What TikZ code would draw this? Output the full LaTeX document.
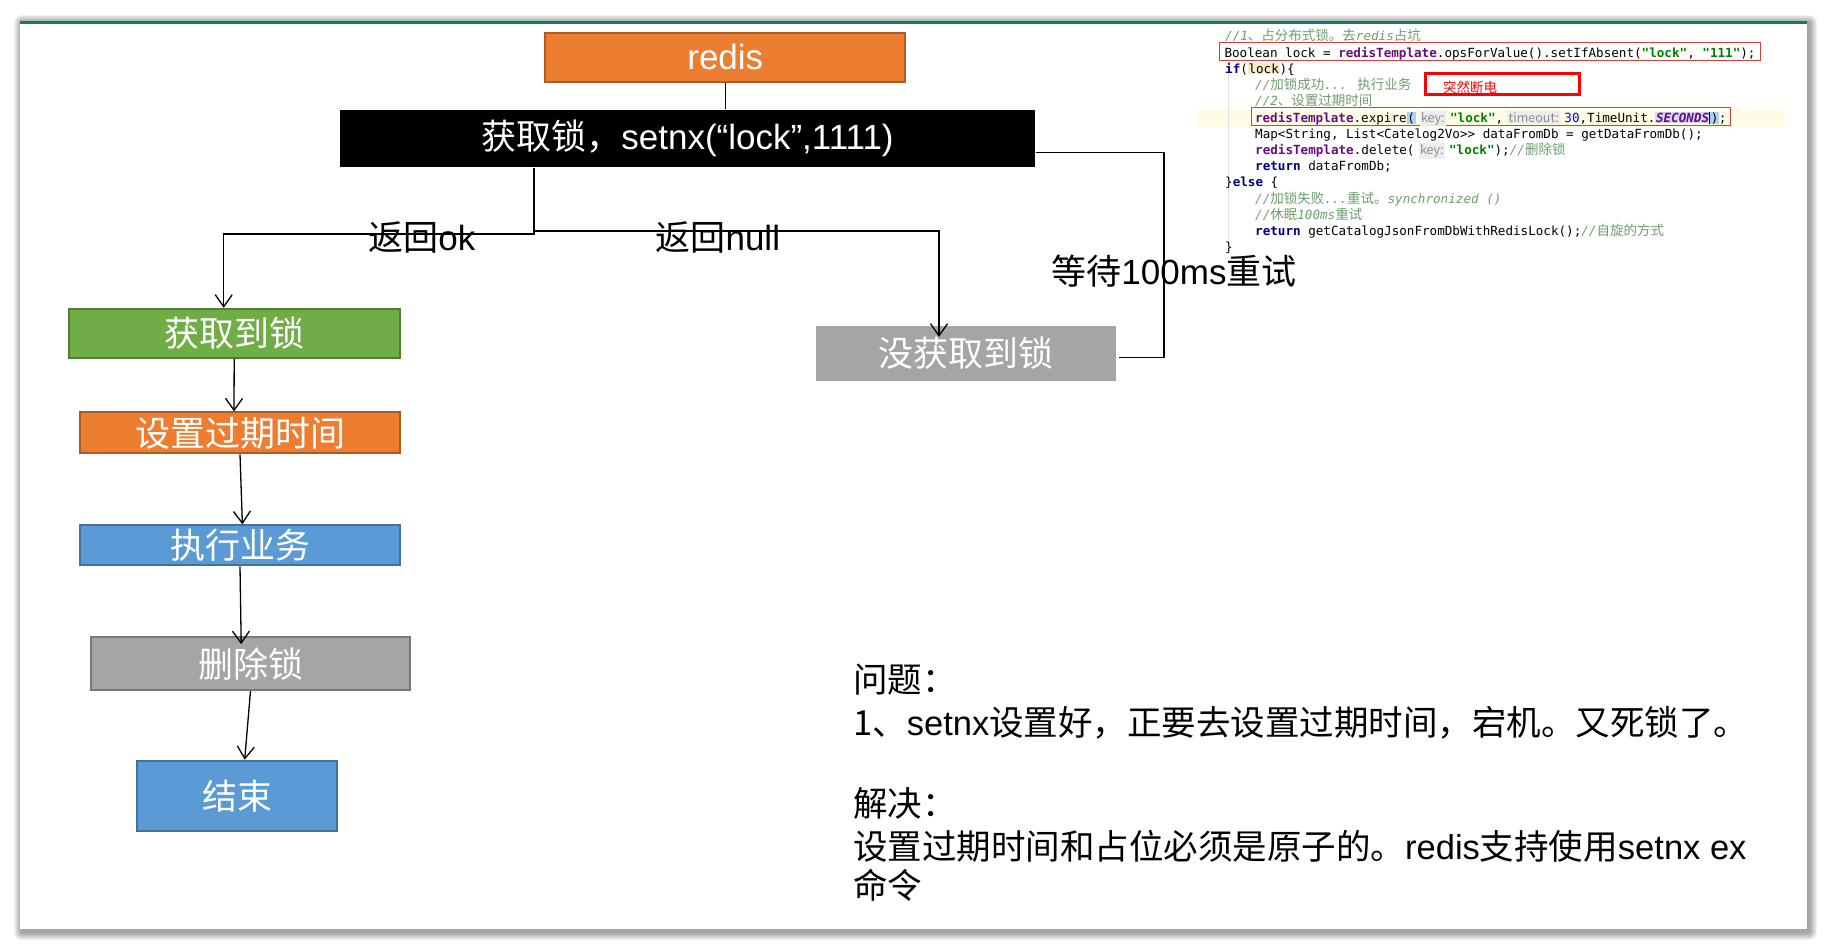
\documentclass[tikz,border=0pt]{standalone}
\usepackage{fontspec}
\setmainfont{Noto Sans CJK SC}
\newfontfamily\cjk{Noto Sans CJK SC}
\newfontfamily\lat{Liberation Sans}
\newfontfamily\mono{DejaVu Sans Mono}
\usetikzlibrary{arrows.meta, positioning}

\definecolor{slideteal}{HTML}{127A6B}
\definecolor{orngfill}{HTML}{ED7D31}
\definecolor{orngline}{HTML}{AE5A21}
\definecolor{grnfill}{HTML}{70AD47}
\definecolor{grnline}{HTML}{507E32}
\definecolor{bluefill}{HTML}{5B9BD5}
\definecolor{blueline}{HTML}{41719C}
\definecolor{grayfill}{HTML}{A5A5A5}
\definecolor{grayline}{HTML}{787878}
\definecolor{cmtgreen}{HTML}{6E9E6E}
\definecolor{kwnavy}{HTML}{000080}
\definecolor{tplpurple}{HTML}{660E7A}
\definecolor{strgreen}{HTML}{008000}
\definecolor{numblue}{HTML}{0000FF}
\definecolor{hintgray}{HTML}{8C8C8C}
\definecolor{hintbg}{HTML}{EDEDED}
\definecolor{lockbg}{HTML}{F6EDC6}
\definecolor{parenbg}{HTML}{A9D0F5}
\definecolor{selbg}{HTML}{D6D6F7}
\definecolor{curline}{HTML}{FFFCE6}
\definecolor{codered}{HTML}{DD3B3B}

% code colouring
\newcommand\codezh[1]{{\cjk\fontsize{13.5}{15}\selectfont #1}}
\newcommand\codekw[1]{{\bfseries\color{kwnavy}#1}}
\newcommand\codetpl{{\bfseries\color{tplpurple}redisTemplate}}
\newcommand\codestr[1]{{\bfseries\color{strgreen}"#1"}}
\newcommand\codecm[1]{{\itshape\color{cmtgreen}#1}}
\newcommand\codebg[2]{{\setlength\fboxsep{0.6pt}\colorbox{#1}{#2}}}
\newcommand\codehint[1]{\hspace{4pt}{\setlength\fboxsep{1.5pt}\colorbox{hintbg}{\cjk\fontsize{12.5}{13}\selectfont\color{hintgray}#1}}\hspace{4pt}}

\tikzset{
  box/.style={rectangle, inner sep=0pt, line width=2pt, text=white, font=\fontsize{35}{42}\selectfont},
  tag/.style={inner sep=0pt, font=\fontsize{35}{42}\selectfont},
  conn/.style={line width=1.3pt},
  codeline/.style={anchor=base west, inner sep=0pt, font=\mono\fontsize{12.6}{15}\selectfont},
  redline/.style={codeline, draw=codered, line width=1pt, inner ysep=2pt, text height=12.5pt, text depth=1pt},
}

\begin{document}
\begin{tikzpicture}[x=1pt, y=-1pt, >={Straight Barb[length=12pt,width=17pt]}]
  \useasboundingbox (0,0) rectangle (1827,950);
  \fill[white] (0,0) rectangle (1827,950);
  % slide with shadow
  \foreach \k in {1,...,8}
    \fill[black, opacity=0.05, rounded corners=\k pt] ({22-\k},{23-\k}) rectangle ({1809+\k},{932+\k});
  \fill[white] (20,21) rectangle (1807,929);
  \draw[slideteal, line width=3pt] (20,22.5) -- (1807,22.5);

  % code screenshot
  \fill[curline] (1198,110) rectangle (1785,126.7);
  \draw[black!12, line width=0.8pt] (1228,62) -- (1228,245);
  \node[codeline] (c1) at (1225,41) {\codecm{//1\codezh{、占分布式锁。去}redis\codezh{占坑}}};
  \node[redline, inner xsep=5pt] (c2) at (1219,57.2) {Boolean lock = \codetpl.opsForValue().setIfAbsent(\codestr{lock}, \codestr{111});};
  \node[codeline] (c3) at (1225,73.4) {\codekw{if}(\codebg{lockbg}{lock})\{};
  \node[codeline] (c4) at (1255,89.6) {\codecm{//\codezh{加锁成功}... \codezh{执行业务}}};
  \node[codeline] (c5) at (1255,105.8) {\codecm{//2\codezh{、设置过期时间}}};
  \node[redline, inner xsep=3.5pt] (c6) at (1251,122) {\codetpl.expire\codebg{parenbg}{(}\codehint{key:}\codestr{lock},\codehint{timeout:}{\color{numblue}30},TimeUnit.\codebg{selbg}{\bfseries\itshape\color{tplpurple}SECONDS}\kern-0.4pt\rule[-2pt]{0.8pt}{12pt}\codebg{parenbg}{)};};
  \node[codeline] (c7) at (1255,138.2) {Map<String, List<Catelog2Vo>{}> dataFromDb = getDataFromDb();};
  \node[codeline] (c8) at (1255,154.4) {\codetpl.delete(\codehint{key:}\codestr{lock});\codecm{//\codezh{删除锁}}};
  \node[codeline] (c9) at (1255,170.6) {\codekw{return} dataFromDb;};
  \node[codeline] (c10) at (1225,186.8) {\}\codekw{else} \{};
  \node[codeline] (c11) at (1255,203) {\codecm{//\codezh{加锁失败}...\codezh{重试。}synchronized ()}};
  \node[codeline] (c12) at (1255,219.2) {\codecm{//\codezh{休眠}100ms\codezh{重试}}};
  \node[codeline] (c13) at (1255,235.4) {\codekw{return} getCatalogJsonFromDbWithRedisLock();\codecm{//\codezh{自旋的方式}}};
  \node[codeline] (c14) at (1225,251.6) {\}};
  \node[draw=red, line width=3pt, minimum width=154pt, minimum height=20.7pt] (blackout) at (1502.5,83.8) {};
  \node[anchor=west, inner sep=0pt, text=red, font=\fontsize{13.5}{15}\selectfont] (blackouttxt) at (1443,87.7) {突然断电};

  % flow
  \node[box, fill=orngfill, draw=orngline, minimum width=360pt, minimum height=49pt] (redis) at (725.3,57.1) {\lat redis};
  \node[box, fill=black, minimum width=694.5pt, minimum height=57pt] (setnx) at (687.5,138) {获取锁，{\lat setnx(“lock”,1111)}};
  \node[box, fill=grnfill, draw=grnline, minimum width=331pt, minimum height=49pt] (gotlock) at (234.2,333.3) {获取到锁};
  \node[box, fill=orngfill, draw=orngline, minimum width=319.6pt, minimum height=41pt] (setexp) at (240,432.9) {设置过期时间};
  \node[box, fill=bluefill, draw=blueline, minimum width=319.6pt, minimum height=40pt] (dobiz) at (240,545.3) {执行业务};
  \node[box, fill=grayfill, draw=grayline, minimum width=319.6pt, minimum height=52.8pt] (unlock) at (250.5,663.6) {删除锁};
  \node[box, fill=bluefill, draw=blueline, minimum width=199.6pt, minimum height=70.3pt] (finish) at (237.1,795.8) {结束};
  \node[box, fill=grayfill, minimum width=300.7pt, minimum height=54.7pt] (nolock) at (966,353.6) {没获取到锁};

  \coordinate (split) at (534,234);
  \coordinate (nullturn) at (534,231);
  \coordinate (retry) at (1164,152.6);
  \draw[conn] (redis.south) -- (redis.south |- setnx.north);
  \draw[conn,->] (split |- setnx.south) -- (split) -| ([xshift=-10.5pt]gotlock.north);
  \draw[conn,->] (nullturn) -| ([xshift=-27pt,yshift=-11.6pt]nolock.north);
  \draw[conn] ([yshift=-14.6pt]setnx.east) -- (retry) |- ([yshift=-4pt,xshift=2pt]nolock.east);
  \draw[conn,->] (gotlock.south) -- ([xshift=-6pt]setexp.north);
  \draw[conn,->] (setexp.south) -- ([xshift=2.4pt]dobiz.north);
  \draw[conn,->] (dobiz.south) -- ([xshift=-9.3pt,yshift=-8pt]unlock.north);
  \draw[conn,->] (unlock.south) -- ([xshift=7.6pt]finish.north);

  \node[tag] (okdesc) at (421.8,237.7) {返回{\lat ok}};
  \node[tag] (nulldesc) at (717.8,237.7) {返回{\lat null}};
  \node[tag] (waitdesc) at (1174,271) {等待{\lat 100ms}重试};

  % notes
  \node[anchor=north west, align=left, inner sep=0pt, font=\fontsize{34.5}{42.5}\selectfont] (notes) at (853,664)
    {问题：\\1、{\lat setnx}设置好，正要去设置过期时间，宕机。又死锁了。\\[39pt]解决：\\设置过期时间和占位必须是原子的。{\lat redis}支持使用{\lat setnx ex}\\[-3pt]命令};
\end{tikzpicture}
\end{document}
